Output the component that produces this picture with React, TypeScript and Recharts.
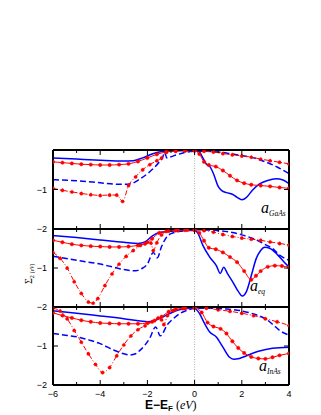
import React from "react";
import { LineChart, Line, XAxis, YAxis, ReferenceLine } from "recharts";

type P = [number, number];

// ---------- axis ticks ----------
const xTicks = [-6, -5, -4, -3, -2, -1, 0, 1, 2, 3, 4];
const yTicks = [-2, -1, 0];
const yLabelTicks = [-2, -1];

// ---------- panel 1 : a_GaAs ----------
const gaasBlueSolid: P[] = [
  [-6, -0.2], [-5, -0.23], [-4, -0.26], [-3, -0.28], [-2.6, -0.27], [-2.2, -0.2], [-1.8, -0.1],
  [-1.4, -0.04], [-1, -0.02], [-0.5, -0.01], [0, -0.01], [0.2, -0.05], [0.35, -0.2], [0.5, -0.36],
  [0.65, -0.42], [0.8, -0.6], [1.0, -0.92], [1.15, -1.03], [1.35, -1.08], [1.6, -1.12], [1.8, -1.2],
  [2.0, -1.26], [2.2, -1.2], [2.45, -1.02], [2.75, -0.86], [3.1, -0.77], [3.45, -0.73], [3.75, -0.76], [4, -0.85],
];
const gaasBlueDash: P[] = [
  [-6, -0.75], [-5, -0.78], [-4, -0.83], [-3.2, -0.87], [-2.75, -0.86], [-2.33, -0.74], [-1.9, -0.55],
  [-1.55, -0.34], [-1.35, -0.18], [-1.27, -0.06], [-1.18, -0.2], [-1.0, -0.17], [-0.75, -0.12],
  [-0.4, -0.06], [0, -0.03], [1, -0.05], [1.5, -0.09], [2, -0.14], [2.5, -0.2], [3, -0.3], [3.5, -0.43], [4, -0.6],
];
const gaasRedSolid: P[] = [
  [-6, -0.3], [-5.6, -0.32], [-5.2, -0.34], [-4.8, -0.36], [-4.4, -0.37], [-4, -0.38], [-3.6, -0.38],
  [-3.2, -0.37], [-2.8, -0.35], [-2.4, -0.29], [-2.0, -0.2], [-1.6, -0.11], [-1.2, -0.05], [-0.8, -0.03],
  [-0.4, -0.02], [0, -0.02], [0.2, -0.1], [0.4, -0.3], [0.6, -0.38], [0.9, -0.42], [1.2, -0.52], [1.5, -0.65],
  [1.8, -0.77], [2.1, -0.84], [2.4, -0.88], [2.8, -0.9], [3.2, -0.92], [3.6, -0.95], [4, -0.97],
];
const gaasRedDashDot: P[] = [
  [-6, -0.97], [-5.6, -1.02], [-5.2, -1.06], [-4.8, -1.1], [-4.4, -1.13], [-4, -1.15], [-3.6, -1.14],
  [-3.3, -1.14], [-3.05, -1.3], [-2.8, -0.9], [-2.5, -0.68], [-2.2, -0.5], [-1.9, -0.37], [-1.6, -0.27],
  [-1.4, -0.2], [-1.2, -0.05], [-0.8, -0.02], [-0.4, -0.01], [0, -0.01], [0.4, -0.03], [0.8, -0.05],
  [1.2, -0.09], [1.6, -0.12], [2, -0.15], [2.4, -0.18], [2.8, -0.23], [3.2, -0.27], [3.6, -0.31], [4, -0.35],
];

// ---------- panel 2 : a_eq ----------
const eqBlueSolid: P[] = [
  [-6, -0.17], [-5, -0.22], [-4, -0.28], [-3, -0.34], [-2.4, -0.37], [-2.1, -0.33], [-1.8, -0.18],
  [-1.5, -0.09], [-1, -0.06], [-0.5, -0.04], [0, -0.04], [0.13, -0.1], [0.35, -0.42], [0.64, -0.72],
  [0.92, -0.94], [1.09, -1.14], [1.23, -0.98], [1.4, -1.15], [1.62, -1.36], [1.85, -1.6], [2.02, -1.72],
  [2.2, -1.6], [2.4, -1.2], [2.61, -0.76], [2.8, -0.55], [2.97, -0.47], [3.2, -0.5], [3.5, -0.65],
  [3.8, -0.85], [4, -0.98],
];
const eqBlueDash: P[] = [
  [-6, -0.7], [-5.5, -0.75], [-5, -0.8], [-4.5, -0.85], [-4, -0.9], [-3.5, -0.97], [-3, -1.04],
  [-2.5, -1.07], [-2.2, -1.0], [-2, -0.9], [-1.75, -0.6], [-1.58, -0.74], [-1.4, -0.45], [-1.2, -0.22],
  [-1, -0.12], [-0.5, -0.05], [0, -0.02], [1, -0.04], [1.5, -0.08], [2, -0.15], [2.5, -0.25], [3, -0.4],
  [3.3, -0.5], [3.6, -0.67], [4, -0.8],
];
const eqRedSolid: P[] = [
  [-6, -0.29], [-5.6, -0.34], [-5.2, -0.39], [-4.8, -0.42], [-4.4, -0.44], [-4, -0.45], [-3.6, -0.46],
  [-3.2, -0.46], [-2.8, -0.45], [-2.4, -0.42], [-2.1, -0.38], [-1.8, -0.25], [-1.5, -0.1], [-1.2, -0.06],
  [-0.8, -0.04], [-0.4, -0.03], [0, -0.03], [0.2, -0.1], [0.4, -0.3], [0.6, -0.48], [0.9, -0.52],
  [1.2, -0.6], [1.5, -0.72], [1.8, -0.85], [2.1, -1.08], [2.4, -1.3], [2.6, -1.2], [2.8, -1.08],
  [3.1, -0.97], [3.4, -0.94], [3.7, -0.95], [4, -0.98],
];
const eqRedDashDot: P[] = [
  [-6, -0.6], [-5.7, -0.75], [-5.4, -1.0], [-5.1, -1.35], [-4.8, -1.65], [-4.5, -1.87], [-4.3, -1.9],
  [-4.1, -1.78], [-3.8, -1.45], [-3.5, -1.15], [-3.2, -0.9], [-2.9, -0.7], [-2.6, -0.55], [-2.3, -0.42],
  [-2.0, -0.34], [-1.85, -0.36], [-1.75, -0.55], [-1.6, -0.35], [-1.4, -0.15], [-1.1, -0.05], [-0.7, -0.03],
  [-0.3, -0.02], [0, -0.02], [0.4, -0.04], [0.8, -0.08], [1.2, -0.14], [1.6, -0.19], [2, -0.23],
  [2.4, -0.26], [2.8, -0.29], [3.2, -0.33], [3.6, -0.37], [4, -0.41],
];

// ---------- panel 3 : a_InAs ----------
const inasBlueSolid: P[] = [
  [-6, -0.1], [-5, -0.16], [-4, -0.23], [-3, -0.3], [-2.3, -0.36], [-2.0, -0.38], [-1.7, -0.35],
  [-1.4, -0.27], [-1.1, -0.18], [-0.7, -0.08], [-0.3, -0.04], [0, -0.04], [0.2, -0.16], [0.42, -0.42],
  [0.64, -0.64], [0.92, -0.77], [1.2, -1.03], [1.48, -1.29], [1.65, -1.34], [1.9, -1.32], [2.2, -1.25],
  [2.75, -1.13], [3.3, -1.06], [4, -1.03],
];
const inasBlueDash: P[] = [
  [-6, -0.68], [-5.4, -0.73], [-4.86, -0.78], [-4.4, -0.86], [-4, -0.94], [-3.45, -1.1], [-3, -1.2],
  [-2.75, -1.23], [-2.5, -1.2], [-2.33, -1.12], [-1.9, -0.8], [-1.65, -0.51], [-1.45, -0.74],
  [-1.15, -0.45], [-0.9, -0.3], [-0.6, -0.16], [-0.3, -0.08], [0, -0.03], [0.6, -0.03], [1.3, -0.05],
  [2, -0.1], [2.5, -0.18], [3, -0.3], [3.3, -0.44], [3.6, -0.6], [4, -0.72],
];
const inasRedSolid: P[] = [
  [-6, -0.15], [-5.6, -0.22], [-5.2, -0.28], [-4.8, -0.34], [-4.4, -0.38], [-4, -0.41], [-3.6, -0.42],
  [-3.2, -0.43], [-2.8, -0.43], [-2.4, -0.43], [-2.0, -0.41], [-1.7, -0.35], [-1.4, -0.25], [-1.1, -0.12],
  [-0.8, -0.06], [-0.4, -0.03], [0, -0.02], [0.3, -0.14], [0.55, -0.4], [0.8, -0.5], [1.1, -0.56],
  [1.35, -0.68], [1.6, -0.88], [1.85, -1.05], [2.1, -1.18], [2.4, -1.28], [2.7, -1.32], [3.0, -1.33],
  [3.3, -1.29], [3.6, -1.24], [4, -1.19],
];
const inasRedDashDot: P[] = [
  [-6, -0.03], [-5.7, -0.1], [-5.4, -0.3], [-5.1, -0.6], [-4.8, -0.9], [-4.5, -1.2], [-4.2, -1.47],
  [-3.9, -1.68], [-3.6, -1.55], [-3.3, -1.25], [-3.0, -0.97], [-2.7, -0.74], [-2.4, -0.58], [-2.1, -0.48],
  [-1.8, -0.38], [-1.55, -0.28], [-1.4, -0.33], [-1.3, -0.45], [-1.15, -0.22], [-0.9, -0.09], [-0.5, -0.04],
  [0, -0.01], [0.5, -0.03], [1, -0.07], [1.5, -0.11], [2, -0.16], [2.5, -0.22], [3, -0.3], [3.5, -0.38],
  [4, -0.47],
];

const RED = "#ff0000";
const BLUE = "#0000ff";
const FONT = "'Liberation Sans', Arial, sans-serif";
const SERIF = "'Liberation Serif', 'Times New Roman', serif";

const toObj = (a: P[]) => a.map(([x, y]) => ({ x, y }));
const fmt = (v: number) => (v < 0 ? "\u2212" + Math.abs(v) : String(v));

const makeBottomTick = (labels: boolean) => (props: any) => {
  const { x, y, payload } = props;
  const v = payload.value;
  const major = Math.abs(v % 2) === 0;
  const len = major ? 5 : 3;
  return (
    <g>
      <line x1={x} x2={x} y1={y} y2={y - len} stroke="#000" strokeWidth={1} />
      {labels && major && (
        <text x={x} y={y + 12} textAnchor="middle" fontSize={9} fontFamily={FONT} fill="#000">
          {fmt(v)}
        </text>
      )}
    </g>
  );
};

const TopTick = (props: any) => {
  const { x, y, payload } = props;
  const v = payload.value;
  const major = Math.abs(v % 2) === 0;
  const len = major ? 5 : 3;
  return <line x1={x} x2={x} y1={y} y2={y + len} stroke="#000" strokeWidth={1} />;
};

const LeftTick = (props: any) => {
  const { x, y, payload } = props;
  const v = payload.value;
  return (
    <g>
      {v === -1 && <line x1={x} x2={x + 5} y1={y} y2={y} stroke="#000" strokeWidth={1} />}
      {yLabelTicks.includes(v) && (
        <text x={x - 6} y={y + 3} textAnchor="end" fontSize={9} fontFamily={FONT} fill="#000">
          {fmt(v)}
        </text>
      )}
    </g>
  );
};

const RightTick = (props: any) => {
  const { x, y, payload } = props;
  const v = payload.value;
  return v === -1 ? <line x1={x} x2={x - 5} y1={y} y2={y} stroke="#000" strokeWidth={1} /> : <g />;
};

type PanelProps = {
  plotTop: number;
  plotH: number;
  bs: P[];
  bd: P[];
  rs: P[];
  rd: P[];
  showX: boolean;
};

const Panel = ({ plotTop, plotH, bs, bd, rs, rd, showX }: PanelProps) => {
  const H = plotH + 10 + 20;
  const axisLine = { stroke: "#000", strokeWidth: 2 };
  const dot = { r: 1.7, fill: RED, stroke: RED, strokeWidth: 0.5 };
  return (
    <div style={{ position: "absolute", left: 0, top: plotTop - 10, width: 321, height: H }}>
      <LineChart width={321} height={H} margin={{ top: 9, right: 31, bottom: 19, left: 52 }}>
        <XAxis
          xAxisId="b"
          dataKey="x"
          type="number"
          domain={[-6, 4]}
          ticks={xTicks}
          interval={0}
          height={1}
          tickSize={0}
          tickMargin={0}
          tickLine={false}
          axisLine={axisLine}
          tick={makeBottomTick(showX)}
          allowDataOverflow
        />
        <XAxis
          xAxisId="t"
          orientation="top"
          dataKey="x"
          type="number"
          domain={[-6, 4]}
          ticks={xTicks}
          interval={0}
          height={1}
          tickSize={0}
          tickMargin={0}
          tickLine={false}
          axisLine={axisLine}
          tick={TopTick}
          allowDataOverflow
        />
        <YAxis
          yAxisId="l"
          type="number"
          domain={[-2, 0]}
          ticks={yTicks}
          interval={0}
          width={1}
          tickSize={0}
          tickMargin={0}
          tickLine={false}
          axisLine={axisLine}
          tick={LeftTick}
          allowDataOverflow
        />
        <YAxis
          yAxisId="r"
          orientation="right"
          type="number"
          domain={[-2, 0]}
          ticks={yTicks}
          interval={0}
          width={1}
          tickSize={0}
          tickMargin={0}
          tickLine={false}
          axisLine={axisLine}
          tick={RightTick}
          allowDataOverflow
        />
        <ReferenceLine xAxisId="b" yAxisId="l" x={0} stroke="#9a9a9a" strokeWidth={0.8} strokeDasharray="1 1.5" />
        <Line xAxisId="b" yAxisId="l" data={toObj(bd)} dataKey="y" type="monotone" stroke={BLUE} strokeWidth={1.5} strokeDasharray="6 3" dot={false} isAnimationActive={false} />
        <Line xAxisId="b" yAxisId="l" data={toObj(bs)} dataKey="y" type="monotone" stroke={BLUE} strokeWidth={1.5} dot={false} isAnimationActive={false} />
        <Line xAxisId="b" yAxisId="l" data={toObj(rd)} dataKey="y" type="monotone" stroke={RED} strokeWidth={1} strokeDasharray="5 2 1 2" dot={dot} isAnimationActive={false} />
        <Line xAxisId="b" yAxisId="l" data={toObj(rs)} dataKey="y" type="monotone" stroke={RED} strokeWidth={1} dot={dot} isAnimationActive={false} />
      </LineChart>
    </div>
  );
};

export default function App() {
  return (
    <div style={{ position: "absolute", left: 0, top: 0, width: 321, height: 415, background: "#fff" }}>
      <Panel plotTop={150} plotH={79} bs={gaasBlueSolid} bd={gaasBlueDash} rs={gaasRedSolid} rd={gaasRedDashDot} showX={false} />
      <Panel plotTop={229} plotH={78} bs={eqBlueSolid} bd={eqBlueDash} rs={eqRedSolid} rd={eqRedDashDot} showX={false} />
      <Panel plotTop={307} plotH={78} bs={inasBlueSolid} bd={inasBlueDash} rs={inasRedSolid} rd={inasRedDashDot} showX={true} />
      <svg width={321} height={415} style={{ position: "absolute", left: 0, top: 0, pointerEvents: "none" }}>
        <text x={261} y={213} fontFamily={SERIF} fontStyle="italic" fontSize={16} fill="#000">
          a<tspan fontSize={7.5} dy={3}>GaAs</tspan>
        </text>
        <text x={250} y={291} fontFamily={SERIF} fontStyle="italic" fontSize={16} fill="#000">
          a<tspan fontSize={7.5} dy={3}>eq</tspan>
        </text>
        <text x={259} y={371} fontFamily={SERIF} fontStyle="italic" fontSize={16} fill="#000">
          a<tspan fontSize={7.5} dy={3}>InAs</tspan>
        </text>
        <text x={32} y={284} transform="rotate(-90 32 284)" fontFamily={SERIF} fontSize={10} fill="#000">
          Σ<tspan fontSize={6} dy={2}>2</tspan>
          <tspan fontSize={5.5} dx={2}>(</tspan>
          <tspan fontSize={5.5} fontStyle="italic">eV</tspan>
          <tspan fontSize={5.5}>)</tspan>
        </text>
        <text x={145} y={409} fontFamily={FONT} fontWeight="bold" fontSize={12} fill="#000">
          E{"\u2212"}E<tspan fontSize={8} dy={2}>F</tspan>
          <tspan dy={-2} dx={3} fontFamily={SERIF} fontWeight="normal" fontSize={12}>(</tspan>
          <tspan fontFamily={SERIF} fontWeight="normal" fontStyle="italic" fontSize={12}>eV</tspan>
          <tspan fontFamily={SERIF} fontWeight="normal" fontSize={12}>)</tspan>
        </text>
      </svg>
    </div>
  );
}
